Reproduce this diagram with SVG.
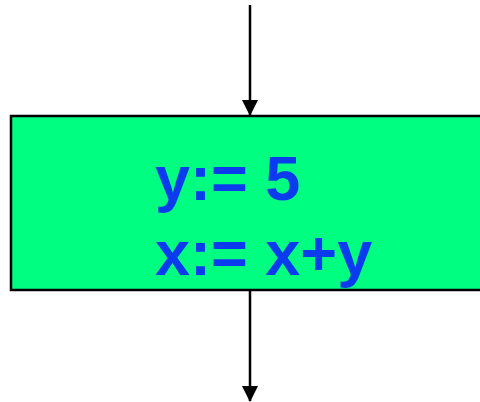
<svg xmlns="http://www.w3.org/2000/svg" width="480" height="402" viewBox="0 0 480 402">
<style>
.box{fill:#00FF80;stroke:#000;stroke-width:2.5}
.lbl{font-family:"Liberation Sans",Arial,sans-serif;font-weight:bold;font-size:63px;fill:#0A3CEE}
.conn{stroke:#000;stroke-width:2.5;fill:none}
</style>
<defs>
<marker id="ah" markerUnits="userSpaceOnUse" markerWidth="16" markerHeight="16" refX="15" refY="8" orient="auto" viewBox="0 0 16 16">
<path d="M0,0 L16,8 L0,16 Z" fill="#000"/>
</marker>
</defs>
<g id="connectors">
<line class="conn" x1="250" y1="5" x2="250" y2="115" marker-end="url(#ah)"/>
<line class="conn" x1="250" y1="291" x2="250" y2="401" marker-end="url(#ah)"/>
</g>
<g id="node1">
<rect class="box" x="11" y="116" width="480" height="174"/>
<text class="lbl" x="155" y="200">y:= 5</text>
<text class="lbl" x="155" y="275">x:= x+y</text>
</g>
</svg>
